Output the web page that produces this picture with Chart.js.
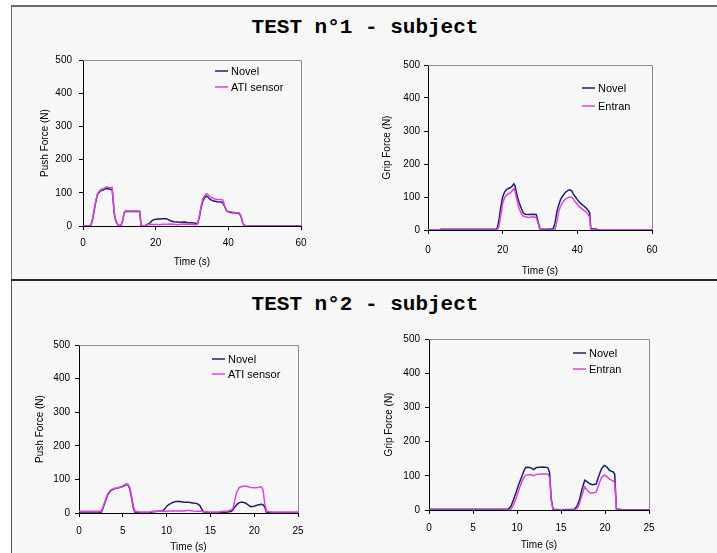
<!DOCTYPE html>
<html><head><meta charset="utf-8">
<script src="https://cdn.jsdelivr.net/npm/chart.js@4.4.0/dist/chart.umd.min.js"></script>
<style>
html,body{margin:0;padding:0;background:#fff;width:717px;height:553px;overflow:hidden;position:relative;}
.panel{position:absolute;left:11px;width:720px;background:#f7f7f7;box-sizing:border-box;}
#p1{top:5px;height:275px;border-top:2px solid #6e6e6e;border-left:1px solid #6e6e6e;}
#sep{position:absolute;left:11px;top:279px;width:720px;height:2px;background:#262626;}
#p2{top:281px;height:280px;border-left:1px solid #555;}
.title{position:absolute;left:0;width:730px;text-align:center;font:bold 21px "Liberation Mono",monospace;line-height:21px;color:#000;white-space:pre;}
canvas{position:absolute;}
</style></head><body>
<div class="panel" id="p1"></div>
<div class="panel" id="p2"></div>
<div id="sep"></div>
<div class="title" style="top:17px">TEST n°1 - subject</div>
<div class="title" style="top:294px">TEST n°2 - subject</div>
<canvas id="c1"></canvas><canvas id="c2"></canvas><canvas id="c3"></canvas><canvas id="c4"></canvas>
<script>
// ---- data ----
const push1Time  = [0,2,2.5,3,3.5,4,4.5,5,5.5,6,6.5,7,7.5,8,8.3,8.6,9,9.5,10,10.5,11,11.3,11.6,12,13,14,15,15.6,16,17,17.5,18,18.5,19,19.5,20,21,22,23,24,25,26,27,28,29,30,31,31.5,32,32.5,33,33.5,34,34.5,35,35.5,36,37,38,38.5,39,39.5,40,41,42,43,43.5,44,44.5,45,60];
const push1ATI   = [0,0,15,45,75,98,105,110,112,115,118,116,115,116,80,40,18,6,2,3,20,40,45,45,45,45,45,45,2,0,3,5,4,5,3,5,4,5,5,6,5,4,5,6,5,5,4,5,30,60,82,92,97,93,88,85,82,80,80,78,60,47,44,42,40,40,30,8,2,0,0];
const push1Novel = [0,0,12,42,72,95,102,107,108,111,113,112,110,112,78,38,16,5,1,2,19,39,44,44,44,44,44,44,1,0,4,6,10,16,19,20,21,22,22,16,13,12,11,12,10,10,8,6,25,55,76,86,90,86,80,77,75,73,72,70,58,46,43,40,39,38,28,7,1,0,0];

const grip1Time   = [0,3,3.5,5,10,15,18,18.5,19,19.5,20,20.5,21,21.5,22,22.5,23,23.3,23.6,24,24.5,25,25.5,26,27,28,29,29.5,30,31,32,33,33.5,34,34.5,35,35.5,36,36.5,37,37.5,38,38.5,39,39.5,40,40.5,41,41.5,42,42.5,43,43.3,43.6,44,45,45.5,60];
const grip1Novel  = [0,0,2,2,2,2,2,3,30,70,100,115,122,126,128,132,140,135,118,98,80,65,52,48,47,48,47,25,3,2,2,3,3,20,55,75,92,102,110,116,120,122,118,108,100,92,85,80,75,70,65,58,52,5,3,3,0,0];
const grip1Entran = [0,0,0,0,0,0,0,0,10,45,80,98,105,110,112,118,125,118,102,82,62,50,42,40,38,40,38,20,0,0,0,0,0,0,25,55,72,82,90,95,98,100,99,92,85,78,70,66,62,58,54,45,38,2,0,0,0,0];

const push2Time  = [0,2.5,2.7,2.9,3.1,3.3,3.6,4,4.4,4.8,5.1,5.4,5.6,5.8,6,6.2,6.4,7,8,8.5,9,9.5,9.7,9.9,10.1,10.3,10.6,11,11.5,12,12.5,13,13.5,13.8,14,14.2,14.5,15,16,16.5,17,17.4,17.6,17.8,18,18.3,18.6,19,19.3,19.6,20,20.4,20.8,21,21.2,21.4,22,25];
const push2ATI   = [5,5,15,30,45,58,68,73,75,78,82,87,85,75,50,20,5,3,3,5,5,5,5,5,5,6,6,6,6,6,8,6,5,5,5,4,4,3,4,5,6,10,15,40,62,76,79,80,78,76,75,76,78,70,30,5,3,3];
const push2Novel = [0,0,12,27,42,55,66,72,74,77,80,85,83,72,45,15,2,0,0,4,5,5,10,16,22,26,30,34,34,32,32,30,28,22,12,4,1,0,0,2,3,5,10,18,25,31,33,30,24,19,20,24,26,25,18,2,0,0];

const grip2Time   = [0,2.5,2.7,5,8,9,9.3,9.6,9.9,10.2,10.5,10.8,11,11.5,11.9,12.2,12.6,13,13.5,13.7,13.9,14.1,15,16.5,16.8,17.1,17.4,17.7,18,18.3,18.6,19,19.3,19.6,19.9,20.2,20.5,20.9,21.1,21.3,22,25];
const grip2Novel  = [2,2,2,2,2,2,10,30,52,75,95,115,125,124,118,124,125,126,124,110,30,2,1,2,10,30,62,87,82,76,74,76,100,120,130,126,116,112,105,3,1,1];
const grip2Entran = [0,0,0,0,0,0,2,15,35,58,80,96,102,104,100,104,105,105,105,95,25,0,0,0,3,18,45,68,58,50,50,52,75,95,102,98,90,85,80,0,0,0];

const pushTicks = [0,100,200,300,400,500];
const labelsPush = ['Novel','ATI sensor'];
const labelsGrip = ['Novel','Entran'];

// ---- styling ----
const NAVY = '#1f1f6e';
const MAG = '#dd44dd';
const FONT = '"Liberation Sans", Arial, sans-serif';

function pairs(xs, ys){ return xs.map((x,i)=>({x:x, y:ys[i]})); }

const framePlugin = {
  id:'frame',
  beforeDatasetsDraw(chart){
    const a = chart.chartArea, c = chart.ctx;
    c.save(); c.strokeStyle = '#8c8c8c'; c.lineWidth = 1;
    c.beginPath();
    c.moveTo(a.left, Math.round(a.top)+0.5);
    c.lineTo(Math.round(a.right)+0.5, Math.round(a.top)+0.5);
    c.lineTo(Math.round(a.right)+0.5, a.bottom);
    c.stroke(); c.restore();
  }
};
const legendPlugin = {
  id:'innerLegend',
  afterDraw(chart, args, opts){
    const a = chart.chartArea, c = chart.ctx;
    const x0 = a.right - opts.fromRight;
    c.save();
    c.font = '11px ' + FONT; c.textBaseline = 'middle'; c.fillStyle = '#000';
    opts.order.forEach((di, k) => {
      const ds = chart.data.datasets[di];
      const y = a.top + opts.rows[k];
      c.strokeStyle = ds.borderColor; c.lineWidth = 1.5;
      c.beginPath(); c.moveTo(x0, y); c.lineTo(x0 + 13, y); c.stroke();
      c.fillText(ds.label, x0 + 16, y + 0.5);
    });
    c.restore();
  }
};

function makeChart(id, cfg){
  const PL = 2, PT = 12, PR = 20, PB = 2;
  const W = cfg.R - cfg.L, H = cfg.B - cfg.T;
  const cv = document.getElementById(id);
  const cw = PL + cfg.YW + W + PR, ch = PT + H + cfg.XH + PB;
  cv.width = cw; cv.height = ch;
  cv.style.width = cw + 'px'; cv.style.height = ch + 'px';
  cv.style.left = (cfg.L - cfg.YW - PL) + 'px';
  cv.style.top = (cfg.T - PT) + 'px';
  return new Chart(cv, {
    type:'line',
    data:{ datasets:[
      { label:cfg.names[0], data:pairs(cfg.time, cfg.s1), borderColor:NAVY, borderWidth:1.5, pointRadius:0, tension:0, fill:false, order:1 },
      { label:cfg.names[1], data:pairs(cfg.time, cfg.s2), borderColor:MAG, borderWidth:1.5, pointRadius:0, tension:0, fill:false, order:0 }
    ]},
    options:{
      responsive:false, animation:false, devicePixelRatio:1,
      layout:{ padding:{ left:PL, top:PT, right:PR, bottom:PB } },
      plugins:{ legend:{display:false}, tooltip:{enabled:false},
        innerLegend:{ fromRight:cfg.legX, rows:cfg.legRows, order:[0,1] } },
      scales:{
        x:{ type:'linear', min:0, max:cfg.xMax,
          afterFit:(s)=>{ s.height = cfg.XH; },
          ticks:{ stepSize:cfg.xStep, color:'#000', font:{family:FONT, size:10}, padding:cfg.xPad, maxRotation:0 },
          grid:{ display:true, drawOnChartArea:false, drawTicks:true, tickLength:4, color:'#000' },
          border:{ display:true, color:'#000', width:1 },
          title:{ display:true, text:'Time (s)', color:'#000', font:{family:FONT, size:10}, padding:0 } },
        y:{ min:0, max:500, afterFit:(s)=>{ s.width = cfg.YW; },
          afterBuildTicks:(s)=>{ s.ticks = pushTicks.map(v=>({value:v})); },
          ticks:{ color:'#000', font:{family:FONT, size:10}, padding:cfg.yPad },
          grid:{ display:true, drawOnChartArea:false, drawTicks:true, tickLength:4, color:'#000' },
          border:{ display:true, color:'#000', width:1 },
          title:{ display:true, text:cfg.yTitle, color:'#000', font:{family:FONT, size:10}, padding:0 } }
      }
    },
    plugins:[framePlugin, legendPlugin]
  });
}

makeChart('c1', { L:83, T:59, R:301, B:226, YW:44, XH:42, xPad:7, yPad:7, xMax:60, xStep:20,
  yTitle:'Push Force (N)', names:labelsPush, time:push1Time, s1:push1Novel, s2:push1ATI,
  legX:86, legRows:[11,27] });
makeChart('c2', { L:428, T:65, R:652, B:230, YW:47, XH:47, xPad:10, yPad:4, xMax:60, xStep:20,
  yTitle:'Grip Force (N)', names:labelsGrip, time:grip1Time, s1:grip1Novel, s2:grip1Entran,
  legX:70, legRows:[23,41] });
makeChart('c3', { L:79, T:345, R:298, B:513, YW:45, XH:40, xPad:8, yPad:5, xMax:25, xStep:5,
  yTitle:'Push Force (N)', names:labelsPush, time:push2Time, s1:push2Novel, s2:push2ATI,
  legX:86, legRows:[14,29] });
makeChart('c4', { L:429, T:339, R:649, B:510, YW:46, XH:41, xPad:8, yPad:5, xMax:25, xStep:5,
  yTitle:'Grip Force (N)', names:labelsGrip, time:grip2Time, s1:grip2Novel, s2:grip2Entran,
  legX:76, legRows:[14,30] });
</script>
</body></html>
